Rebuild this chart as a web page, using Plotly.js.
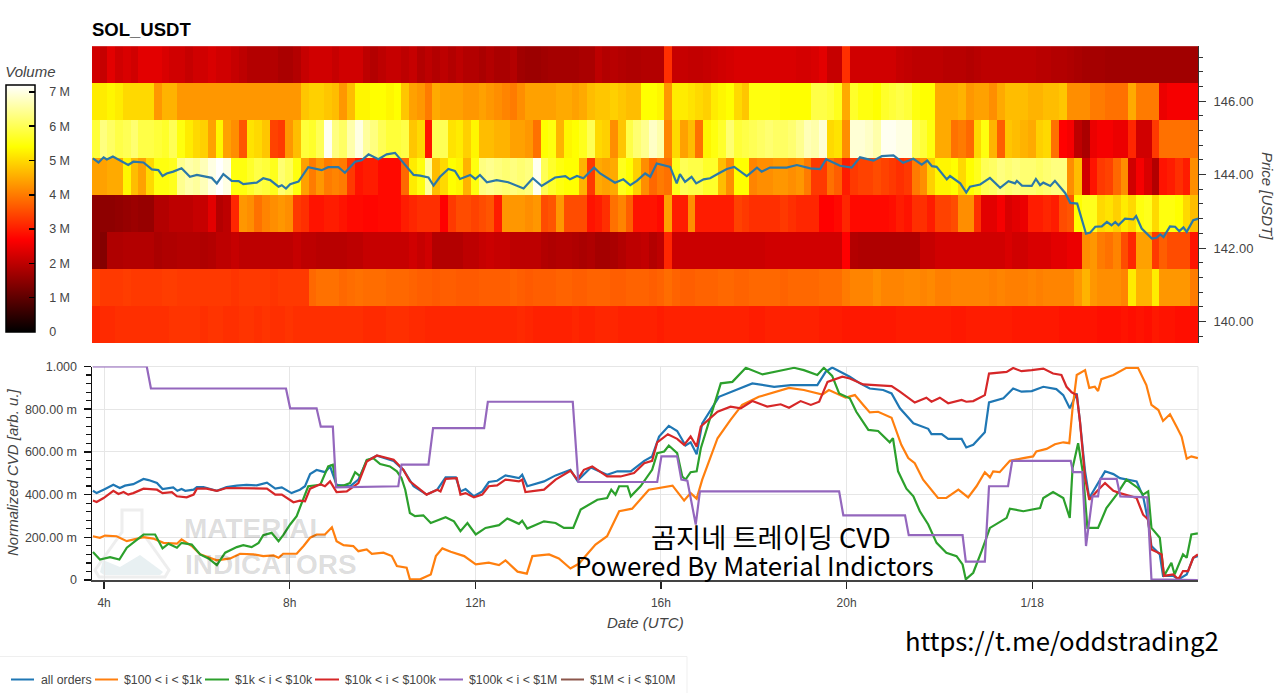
<!DOCTYPE html>
<html><head><meta charset="utf-8">
<script src="https://cdn.plot.ly/plotly-3.0.1.min.js"></script>
<style>html,body{margin:0;padding:0;background:#fff}#c{width:1280px;height:693px}</style>
</head><body><div id="c"></div>
<script>
// Volume heatmap, millions, 10-minute columns, one row per price band (top band first)
const rowA=[2.2,2.1,2.4,2.2,2.3,2.2,2.4,2.4,2.4,2.3,
2.2,2.2,2.1,2.2,2.2,2.3,2.2,2.2,2.1,2.0,
1.9,1.9,1.9,1.9,1.8,1.8,1.9,2.1,2.2,2.2,
2.2,2.1,2.2,2.2,2.2,2.0,1.9,2.0,2.1,2.1,
2.0,2.1,1.9,2.0,1.9,2.0,1.9,2.0,1.9,1.9,
1.8,1.9,1.8,1.8,1.9,1.7,1.65,1.65,1.7,1.75,
1.75,1.75,1.75,1.8,1.8,2.0,1.9,1.95,1.9,1.85,
1.85,1.9,1.9,1.9,3.2,2.1,2.1,2.05,2.05,2.1,
2.15,2.2,2.25,2.3,2.3,2.3,2.3,2.3,2.3,2.3,
2.3,2.25,2.25,2.3,2.4,2.1,2.1,3.2,2.2,2.2,
2.2,2.2,2.2,2.2,2.1,2.05,2.0,2.0,2.0,2.0,
1.95,1.95,1.95,1.9,1.95,2.0,2.0,2.0,2.0,2.0,
2.0,2.0,1.95,1.95,1.9,1.9,1.85,1.8,1.75,1.75,
1.75,1.7,1.7,1.7,1.7,1.7,1.7,1.7,1.7,1.7,1.7,1.7,1.7];
const rowB=[5.2,5.2,5.3,5.2,5.0,5.0,5.0,5.0,4.3,4.6,
4.6,4.3,4.3,4.3,4.3,4.3,4.3,4.3,4.3,4.3,
4.3,4.3,4.3,4.3,4.3,4.3,4.3,4.8,4.9,4.9,
4.8,4.7,4.3,4.7,5.3,5.3,5.4,5.4,5.3,5.4,
4.8,4.4,4.3,4.0,4.5,4.4,4.4,4.4,4.3,4.3,
4.4,4.3,4.2,4.1,4.0,4.2,4.4,4.4,4.4,4.4,
4.5,4.5,4.4,4.5,4.7,4.8,4.8,4.9,4.8,4.7,
4.7,5.4,5.4,5.3,4.3,5.2,5.2,5.1,5.0,4.9,
5.2,5.3,5.4,5.0,4.8,5.5,5.5,5.5,5.5,5.4,
5.4,5.4,5.4,5.9,5.9,5.8,5.6,4.5,5.7,5.5,
5.5,5.4,5.7,5.8,5.9,5.8,5.5,5.4,5.4,4.5,
4.5,4.5,4.6,4.3,4.4,4.4,4.2,4.5,4.7,4.7,
4.7,4.6,4.6,4.7,4.7,4.8,4.2,4.2,4.2,4.0,
4.0,3.9,3.9,3.9,4.5,4.0,4.0,4.0,2.5,2.6,2.6,2.6,2.6];
const rowC=[5.8,6.3,6.1,5.9,6.0,6.2,5.9,5.9,5.8,5.7,
6.0,5.5,5.2,5.0,4.9,4.4,5.3,4.4,4.2,3.6,
5.1,5.0,4.8,3.4,3.3,4.3,4.7,5.8,5.7,6.0,
7.1,6.3,6.1,6.6,7.0,6.5,6.3,6.0,5.8,5.8,
5.9,4.8,5.0,2.9,6.0,6.0,5.1,5.2,4.9,5.3,
4.7,4.7,4.6,4.6,4.4,4.4,4.3,3.9,5.4,5.5,
4.6,5.3,5.4,5.6,6.0,5.0,4.9,4.2,4.8,5.9,
6.2,6.4,6.8,6.6,4.1,5.0,4.4,4.7,3.9,5.3,
5.5,5.7,6.2,5.8,5.9,6.0,6.1,6.2,6.1,6.1,
6.2,6.4,6.7,6.6,6.9,5.0,5.1,4.2,6.9,6.9,
6.8,6.6,7.1,7.1,7.0,7.0,6.0,5.8,5.5,4.5,
4.5,3.9,4.0,3.8,5.0,5.5,4.6,3.7,4.8,4.7,
4.6,4.5,4.9,5.0,3.9,2.7,2.6,2.0,1.8,2.5,
2.6,2.6,2.5,2.5,3.1,2.2,2.2,3.3,3.9,3.9,3.9,3.9,3.9];
const rowD=[4.4,4.4,4.5,4.5,5.3,4.7,4.4,5.0,5.5,5.5,
5.6,6.4,6.6,6.5,6.7,7.0,7.2,7.0,5.5,5.5,
5.7,5.9,5.8,5.6,6.2,6.0,5.5,4.4,4.0,4.3,
4.0,4.1,4.0,3.3,2.9,3.0,3.0,2.8,2.8,2.8,
3.8,5.2,5.5,6.5,4.7,5.0,5.4,5.3,4.6,5.5,
6.3,6.4,6.3,6.2,6.3,6.2,6.3,7.1,6.0,5.7,
5.5,5.4,5.4,4.6,3.3,4.5,4.4,4.5,5.6,5.4,
4.9,4.2,3.8,4.0,3.9,5.6,6.0,5.9,5.9,5.7,
5.7,4.7,4.2,5.4,5.4,4.1,4.2,4.2,4.3,4.3,
4.2,4.3,4.0,3.3,3.3,3.9,3.7,3.0,3.3,3.4,
3.4,3.5,3.4,3.3,3.2,3.3,4.0,4.2,4.9,5.3,
5.3,5.4,5.0,5.4,5.6,6.0,6.1,6.3,6.2,6.3,
6.2,6.2,6.1,6.2,6.3,6.3,4.2,4.7,2.2,2.9,
3.3,3.4,3.8,4.2,2.2,2.6,2.3,1.9,2.9,3.0,3.2,3.0,4.2];
const rowE=[1.5,1.5,1.5,1.55,1.6,1.65,1.6,1.6,1.9,1.9,
2.0,2.0,2.0,2.1,2.1,2.4,1.9,2.0,3.1,4.3,
4.2,3.9,4.1,4.2,4.3,4.2,3.3,3.2,2.9,2.9,
3.0,3.0,2.9,2.8,2.8,2.75,2.75,2.8,2.8,2.8,
3.0,3.1,3.2,3.2,3.2,2.7,3.3,3.5,3.5,3.4,
3.5,3.6,3.0,4.3,4.3,4.3,4.2,4.3,3.5,3.6,
4.3,3.5,3.5,3.5,2.9,3.0,3.2,3.9,4.1,3.7,
2.9,2.9,2.9,2.8,4.4,3.0,3.0,4.2,3.0,3.0,
3.0,3.0,3.0,3.4,3.3,3.2,3.2,3.2,3.2,3.3,
3.2,3.1,3.1,3.1,2.7,2.7,2.8,3.1,2.8,2.8,
2.8,2.8,2.8,2.85,3.0,2.9,3.2,3.2,3.0,3.4,
3.4,3.5,4.2,4.2,3.2,2.4,2.4,2.6,2.3,2.4,
2.5,3.0,3.0,3.1,3.0,3.5,3.6,5.4,5.6,5.6,
5.0,5.1,4.9,5.2,5.0,5.5,5.6,5.0,5.5,5.5,5.4,5.0,4.7];
const rowF=[1.5,1.4,1.85,1.85,1.9,1.9,1.9,1.9,1.8,1.85,
1.85,1.9,1.9,1.9,1.85,1.9,2.0,2.0,2.1,2.0,
2.0,2.0,2.0,2.0,2.0,2.0,2.1,2.0,2.0,1.95,
1.95,1.95,1.95,2.0,2.0,2.1,2.1,2.1,2.1,2.1,
2.1,2.2,2.1,2.2,1.9,1.9,1.9,1.9,2.0,2.0,
2.1,2.15,2.1,2.1,2.0,2.0,2.0,2.0,1.9,1.85,
1.9,1.9,1.85,1.8,1.85,1.75,1.75,1.8,1.9,2.0,
2.0,2.05,1.9,2.0,3.1,2.15,2.15,2.15,2.15,2.15,
2.15,2.15,2.15,2.15,2.15,2.15,2.15,2.2,2.2,2.2,
2.2,2.2,2.2,2.2,2.2,2.2,2.2,2.7,1.9,1.85,
1.85,1.85,1.85,1.85,1.85,1.85,1.85,2.1,2.1,2.2,
2.2,2.2,2.2,2.2,2.2,2.2,2.2,2.2,2.3,2.2,
2.2,2.3,2.3,2.3,2.4,2.4,2.5,2.5,4.2,4.3,
4.0,3.9,4.1,3.5,3.1,4.4,4.4,3.3,3.7,3.5,3.5,3.5,2.9];
const rowG=[3.4,3.3,3.3,3.3,3.35,3.3,3.3,3.3,3.3,3.35,
3.35,3.3,3.3,3.3,3.3,3.3,3.3,3.3,3.25,3.3,
3.3,3.3,3.3,3.25,3.3,3.3,3.3,3.3,3.8,3.9,
3.9,3.9,3.8,3.85,3.9,3.85,3.85,3.85,3.8,3.8,
3.8,3.75,3.7,3.7,3.65,3.7,3.7,3.65,3.65,3.65,
3.7,3.7,3.7,3.7,3.75,3.7,3.65,3.7,3.7,3.7,
3.75,3.75,3.7,3.7,3.75,3.75,3.75,3.7,3.7,3.75,
3.75,3.75,3.7,3.75,3.85,3.75,3.7,3.7,3.75,3.75,
3.75,3.8,3.8,3.75,3.75,3.8,3.8,3.8,3.8,3.75,
3.8,3.8,3.8,3.8,3.85,3.85,3.85,4.0,4.1,4.1,
4.1,4.2,4.1,4.1,4.1,4.15,4.15,4.1,4.15,4.05,
4.05,4.1,4.1,4.1,4.1,4.1,4.05,4.1,4.05,4.05,
4.05,4.1,4.05,4.1,4.1,4.1,4.1,4.3,4.6,4.3,
4.2,4.2,4.2,4.1,5.2,4.6,4.6,5.2,4.3,4.3,4.3,4.3,4.0];
const rowH=[3.1,3.15,3.15,3.2,3.2,3.2,3.2,3.2,3.2,3.2,
3.25,3.25,3.25,3.25,3.2,3.25,3.25,3.2,3.2,3.25,
3.25,3.2,3.25,3.2,3.2,3.25,3.2,3.2,3.2,3.2,
3.2,3.2,3.2,3.2,3.2,3.15,3.15,3.15,3.2,3.2,
3.2,3.15,3.15,3.1,3.1,3.1,3.1,3.1,3.1,3.1,
3.1,3.1,3.1,3.1,3.1,3.15,3.1,3.05,3.05,3.05,
3.05,3.05,3.1,3.05,3.05,3.1,3.1,3.1,3.05,3.05,
3.05,3.05,3.05,3.0,3.05,3.05,3.05,3.05,3.05,3.05,
3.05,3.05,3.05,3.05,3.05,3.0,3.0,3.05,3.05,3.05,
3.05,3.05,3.05,3.05,3.0,3.0,3.0,2.95,2.95,2.95,
2.95,2.95,2.95,2.95,3.0,3.0,3.0,3.0,3.0,3.0,
3.0,2.95,2.95,3.0,3.0,3.0,3.0,3.0,3.0,2.95,
2.95,2.95,2.95,2.95,2.95,2.9,2.9,2.9,2.9,2.9,
2.85,2.85,2.85,2.9,2.85,2.9,2.85,2.95,2.9,2.9,2.85,2.85,2.85];
const bandPrices=[139.92,140.93,141.94,142.95,143.96,144.97,145.98,146.99];

// Price
const priceH=[3.76,3.88,3.99,4.06,4.19,4.42,4.52,4.63,4.85,5.03,5.17,5.26,5.35,5.49,5.57,5.67,5.85,6.0,6.32,6.43,6.57,6.75,6.9,7.0,7.29,7.43,7.58,7.76,7.83,7.92,8.01,8.19,8.4,8.55,8.69,8.83,9.05,9.19,9.41,9.55,9.7,9.91,10.09,10.27,10.41,10.67,10.81,10.99,11.1,11.24,11.42,11.56,11.67,11.89,12.0,12.1,12.25,12.46,12.71,13.04,13.24,13.43,13.72,13.94,14.04,14.19,14.33,14.56,14.69,15.01,15.19,15.34,15.48,15.66,15.77,15.91,16.2,16.34,16.41,16.52,16.66,16.76,16.92,17.06,17.24,17.42,17.58,17.85,18.07,18.17,18.35,18.71,18.93,19.22,19.43,19.56,19.86,20.11,20.29,20.58,20.76,21.01,21.22,21.44,21.62,21.74,21.84,21.94,22.16,22.23,22.45,22.58,22.66,22.88,23.09,23.31,23.49,23.63,23.67,23.78,23.99,24.08,24.17,24.24,24.39,24.49,24.71,24.82,24.97,25.16,25.25,25.36,25.5,25.61,25.71,25.79,25.86,26.0,26.18,26.24,26.36,26.58,26.68,26.76,26.83,26.97,27.08,27.17,27.26,27.33,27.47,27.58];
const priceV=[144.44,144.33,144.47,144.41,144.49,144.32,144.26,144.35,144.33,144.14,144.12,143.96,144.03,144.08,144.12,144.17,143.94,143.99,143.91,143.76,144.01,143.83,143.82,143.74,143.78,143.9,143.85,143.67,143.71,143.62,143.74,143.81,144.2,144.15,144.12,144.2,144.2,144.05,144.35,144.39,144.55,144.42,144.55,144.59,144.39,143.99,143.97,143.92,143.7,143.94,144.15,144.1,143.88,143.99,143.88,143.99,143.79,143.85,143.79,143.62,143.9,143.69,143.92,143.96,143.87,143.96,143.9,144.19,144.03,143.78,143.87,143.71,143.83,144.03,143.94,144.3,144.21,143.76,144.01,143.8,143.94,143.76,143.87,143.9,144.03,144.15,144.21,143.96,144.19,144.08,144.19,144.19,144.26,144.17,144.15,144.42,144.24,144.19,144.47,144.38,144.5,144.52,144.32,144.43,144.27,144.38,144.23,144.21,143.87,143.96,143.76,143.51,143.67,143.73,143.91,143.64,143.82,143.76,143.83,143.7,143.69,143.88,143.71,143.78,143.69,143.83,143.5,143.23,143.21,142.39,142.42,142.58,142.59,142.71,142.62,142.71,142.62,142.8,142.78,142.87,142.53,142.26,142.28,142.37,142.3,142.59,142.58,142.46,142.56,142.44,142.76,142.8];

// Normalized CVD series
const allH=[3.76,3.84,3.99,4.2,4.34,4.45,4.63,4.85,4.96,5.14,5.26,5.49,5.58,5.67,5.75,5.93,6.0,6.14,6.43,6.64,6.86,7.07,7.29,7.51,7.69,7.83,8.04,8.22,8.33,8.44,8.58,8.76,8.87,9.01,9.3,9.48,9.66,9.88,10.24,10.45,10.67,10.95,11.18,11.36,11.58,11.68,11.79,11.97,12.15,12.29,12.47,12.65,12.94,13.01,13.12,13.48,13.73,14.05,14.2,14.49,14.84,15.06,15.35,15.64,15.81,15.96,16.17,16.35,16.53,16.64,16.77,16.89,17.25,17.5,17.97,18.44,18.8,19.37,19.55,19.69,19.87,20.07,20.29,20.5,20.79,20.97,21.15,21.44,21.76,21.83,22.05,22.19,22.48,22.58,22.73,22.98,23.07,23.38,23.59,23.77,23.99,24.24,24.52,24.67,24.81,24.96,25.03,25.14,25.23,25.39,25.57,25.75,25.89,26.25,26.39,26.5,26.57,26.75,26.82,27.04,27.15,27.33,27.47,27.57];
const allV=[.418,.407,.423,.446,.431,.442,.449,.473,.468,.454,.426,.434,.418,.426,.418,.423,.435,.435,.418,.435,.442,.446,.443,.456,.428,.434,.407,.423,.439,.496,.515,.505,.532,.446,.439,.47,.558,.582,.558,.516,.439,.4,.423,.481,.481,.415,.426,.392,.415,.459,.465,.49,.477,.493,.439,.462,.49,.516,.465,.527,.493,.509,.509,.558,.579,.672,.722,.698,.63,.645,.589,.734,.858,.879,.921,.905,.913,.913,.975,.995,.975,.952,.921,.897,.89,.874,.804,.734,.708,.683,.683,.661,.661,.621,.633,.692,.832,.851,.897,.882,.885,.905,.894,.866,.804,.874,.742,.509,.384,.446,.509,.496,.477,.462,.392,.275,.159,.12,.019,.019,.003,.026,.104,.112];
const o100H=[3.76,3.91,4.02,4.27,4.49,4.85,5.06,5.28,5.57,5.67,5.89,6.07,6.43,6.72,6.93,7.22,7.43,7.65,7.76,7.86,8.15,8.3,8.44,8.58,8.76,8.91,9.01,9.16,9.37,9.48,9.66,9.77,10.02,10.2,10.31,10.52,10.59,10.81,11.04,11.15,11.29,11.47,11.76,12.01,12.29,12.51,12.65,12.91,13.11,13.23,13.59,13.8,14.05,14.23,14.59,14.84,15.1,15.38,15.74,15.99,16.25,16.5,16.64,16.77,16.89,17.22,17.5,17.75,18.11,18.76,19.08,19.48,19.62,19.98,20.18,20.36,20.5,20.68,20.97,21.18,21.33,21.47,21.65,21.97,22.15,22.41,22.62,22.8,22.98,23.09,23.16,23.3,23.52,23.81,24.02,24.09,24.31,24.49,24.67,24.8,24.87,24.96,25.14,25.23,25.35,25.42,25.49,25.75,26.03,26.28,26.46,26.57,26.72,26.82,26.97,27.11,27.22,27.33,27.43,27.57];
const o100V=[.205,.198,.208,.205,.182,.201,.194,.174,.17,.19,.159,.12,.092,.101,.123,.12,.112,.115,.104,.123,.123,.159,.198,.213,.213,.247,.182,.163,.159,.135,.143,.123,.128,.112,.065,.058,.003,.003,.026,.112,.148,.132,.112,.073,.081,.07,.092,.039,.03,.112,.12,.101,.054,.076,.166,.205,.322,.334,.423,.434,.442,.372,.407,.381,.47,.664,.75,.82,.858,.9,.89,.869,.89,.854,.866,.82,.785,.788,.76,.633,.571,.547,.47,.384,.384,.423,.387,.439,.505,.481,.509,.505,.558,.571,.579,.602,.614,.636,.645,.641,.804,.96,.983,.9,.905,.885,.941,.96,.994,.994,.913,.82,.796,.745,.776,.719,.672,.568,.579,.571];
const o1kH=[3.76,3.91,4.13,4.33,4.49,4.85,5.1,5.26,5.39,5.57,5.67,5.89,6.07,6.25,6.43,6.61,6.86,7.0,7.18,7.33,7.43,7.61,7.76,7.86,8.01,8.15,8.26,8.4,8.66,8.83,8.93,9.01,9.16,9.3,9.41,9.52,9.66,9.8,9.95,10.16,10.31,10.41,10.49,10.59,10.7,10.88,11.04,11.36,11.54,11.68,11.83,12.01,12.22,12.51,12.69,12.94,13.01,13.12,13.48,13.73,13.91,14.11,14.27,14.63,14.84,14.93,15.02,15.1,15.28,15.35,15.56,15.81,15.92,16.07,16.17,16.35,16.46,16.53,16.64,16.77,16.86,17.14,17.29,17.54,17.83,18.19,18.44,18.87,19.08,19.37,19.51,19.69,19.84,20.07,20.21,20.47,20.68,20.93,21.0,21.11,21.29,21.44,21.58,21.76,21.94,22.15,22.37,22.5,22.57,22.73,22.91,23.09,23.45,23.52,23.81,24.17,24.24,24.45,24.67,24.81,24.87,24.99,25.1,25.19,25.42,25.6,25.82,26.03,26.28,26.39,26.5,26.57,26.75,26.84,27.0,27.07,27.25,27.33,27.43,27.57];
const o1kV=[.131,.096,.107,.096,.151,.213,.213,.148,.17,.151,.174,.166,.12,.101,.07,.128,.154,.163,.154,.174,.21,.221,.182,.21,.26,.299,.361,.439,.446,.532,.54,.439,.443,.454,.505,.485,.563,.571,.543,.532,.509,.477,.423,.314,.299,.303,.267,.294,.275,.229,.267,.213,.244,.257,.288,.263,.278,.241,.275,.267,.244,.244,.33,.376,.384,.423,.4,.439,.439,.392,.439,.516,.594,.602,.63,.594,.485,.47,.505,.509,.617,.82,.921,.928,.994,.963,.975,.994,.983,.96,.994,.956,.874,.851,.788,.703,.698,.645,.664,.509,.428,.392,.322,.26,.174,.128,.112,.073,.003,.034,.135,.244,.291,.334,.322,.337,.384,.412,.384,.291,.524,.641,.493,.244,.244,.337,.4,.47,.431,.4,.415,.244,.198,.019,.081,.026,.12,.104,.213,.218];
const o10kH=[3.76,3.84,3.99,4.2,4.31,4.42,4.52,4.63,4.85,5.14,5.26,5.46,5.57,5.78,5.93,6.0,6.21,6.43,6.64,7.0,7.22,7.51,7.69,7.83,8.08,8.22,8.33,8.44,8.66,8.76,8.87,9.01,9.23,9.48,9.66,9.88,10.24,10.45,10.59,10.95,11.18,11.25,11.36,11.6,11.68,11.79,11.97,12.15,12.29,12.47,12.65,12.94,13.01,13.08,13.48,13.73,14.05,14.2,14.34,14.52,14.84,15.13,15.42,15.64,15.81,15.92,16.15,16.35,16.5,16.64,16.77,16.86,17.22,17.5,17.72,17.97,18.29,18.58,18.76,19.01,19.23,19.41,19.59,19.91,20.07,20.36,20.79,20.97,21.15,21.47,21.72,21.83,22.01,22.19,22.48,22.58,22.73,22.98,23.07,23.45,23.59,23.77,23.99,24.24,24.45,24.63,24.74,24.85,24.96,25.03,25.14,25.23,25.39,25.57,25.75,25.89,26.25,26.39,26.5,26.57,26.79,26.84,27.04,27.15,27.25,27.36,27.47,27.57];
const o10kV=[.372,.365,.384,.418,.403,.412,.4,.407,.428,.423,.407,.412,.392,.387,.4,.428,.428,.418,.431,.431,.428,.428,.4,.4,.364,.372,.369,.428,.449,.439,.462,.412,.415,.454,.555,.583,.563,.516,.462,.4,.423,.415,.474,.477,.4,.407,.387,.4,.439,.443,.47,.462,.47,.412,.423,.47,.512,.47,.516,.532,.485,.485,.501,.547,.558,.645,.683,.661,.633,.672,.625,.719,.788,.812,.804,.838,.812,.823,.807,.838,.82,.835,.928,.952,.944,.916,.91,.908,.882,.831,.854,.835,.854,.828,.843,.835,.838,.866,.967,.975,.993,.978,.983,.99,.967,.96,.905,.879,.866,.742,.477,.376,.415,.454,.418,.407,.384,.306,.283,.143,.12,.019,.026,.003,.042,.042,.104,.12];
const o100kH=[3.76,4.92,5.01,7.92,8.01,8.58,8.67,8.93,9.0,10.34,10.41,10.99,11.09,12.19,12.27,14.1,14.22,15.92,16.01,16.35,16.44,16.57,16.75,16.84,19.84,19.93,21.26,21.34,22.5,22.57,22.98,23.07,23.48,23.57,24.83,24.88,25.08,25.16,25.3,25.42,25.47,25.82,25.9,26.48,26.57,27.57];
const o100kV=[1,1,.897,.897,.804,.804,.718,.718,.434,.439,.54,.54,.711,.711,.835,.835,.459,.459,.579,.579,.47,.465,.26,.415,.415,.303,.303,.21,.21,.086,.086,.439,.439,.558,.558,.505,.505,.159,.392,.392,.474,.474,.392,.387,.003,0];

// Labels
const seriesNames=['all orders','$100 < i < $1k','$1k < i < $10k','$10k < i < $100k','$100k < i < $1M','$1M < i < $10M'];
const seriesColors=['#1f77b4','#ff7f0e','#2ca02c','#d62728','#9467bd','#8c564b'];
const xTickHours=[4,8,12,16,20,24];
const xTickText=['4h','8h','12h','16h','20h','1/18'];
const cvdTicks=[0,.2,.4,.6,.8,1];
const cvdTickText=['0','200.00 m','400.00 m','600.00 m','800.00 m','1.000'];
const volTicks=[0,1,2,3,4,5,6,7];
const volTickText=['0','1 M','2 M','3 M','4 M','5 M','6 M','7 M'];
const priceTicks=[140,142,144,146];
const priceTickText=['140.00','142.00','144.00','146.00'];
// Legend key positions on the page (left, right of key; left of label)
const keyLeft=[11,95,205,315,439,561];
const keyRight=[34,118,229,339,463,584];
const keyText=[38.5,121.5,232.5,342.5,466.5,587.5];

const DAY0=Date.UTC(2024,0,17);
const T=h=>new Date(DAY0+h*3600e3).toISOString();
const W=1106,H=534,L=92,B=580;
const px=v=>(v-L)/W, py=v=>(B-v)/H;
const xRange=[T(3.74),T(3.74+143/6)];
const SANS='"Liberation Sans", Arial, sans-serif';
const GREY='#444';

const line=(i,xs,ys)=>({type:'scatter',mode:'lines',name:seriesNames[i],xaxis:'x2',yaxis:'y2',showlegend:false,
  x:xs.map(T),y:ys,line:{color:seriesColors[i],width:2.2},hoverinfo:'skip'});

const traces=[
 {type:'heatmap',xaxis:'x',yaxis:'y',showlegend:false,hoverinfo:'skip',
  z:[rowH,rowG,rowF,rowE,rowD,rowC,rowB,rowA],y:bandPrices,x0:T(3.74+1/12),dx:600000,xtype:'scaled',
  zmin:0,zmax:7.2,colorscale:[[0,'#000000'],[0.375,'#ff0000'],[0.75,'#ffff00'],[1,'#ffffff']],
  colorbar:{x:px(6),xanchor:'left',xpad:0,ypad:0,y:py(197.5),yanchor:'middle',
    lenmode:'pixels',len:269,thicknessmode:'pixels',thickness:29,
    outlinecolor:'#000',outlinewidth:1.5,bgcolor:'rgba(0,0,0,0)',
    tickmode:'array',tickvals:volTicks,ticktext:volTickText.map(t=>'\u00a0\u00a0\u00a0'+t),
    ticks:'inside',ticklen:6,tickwidth:1.5,tickcolor:'#000',
    tickfont:{family:SANS,size:12.5,color:GREY},
    title:{text:'Volume',side:'top',font:{family:SANS,size:15,color:GREY,style:'italic'}}}},
 {type:'scatter',mode:'lines',xaxis:'x',yaxis:'y',x:priceH.map(T),y:priceV,showlegend:false,hoverinfo:'skip',
  line:{color:'#2b78a8',width:2.2}},
 line(0,allH,allV),line(1,o100H,o100V),line(2,o1kH,o1kV),line(3,o10kH,o10kV),line(4,o100kH,o100kV)
];

const note=(text,xp,yp,size,color,extra)=>Object.assign({text,xref:'paper',yref:'paper',x:px(xp),y:py(yp),
  xanchor:'center',yanchor:'middle',showarrow:false,
  font:{family:'"Noto Sans CJK KR","Noto Sans",sans-serif',size,color}},extra||{});
const WM={family:'"Liberation Sans",sans-serif',size:28,weight:700,color:'rgba(0,0,0,0.14)'};
const path=pts=>'M'+pts.map(p=>px(p[0])+','+py(p[1])).join('L')+'Z';
const LEG_Y=679.5;

const layout={
 width:1280,height:693,margin:{l:L,r:82,t:46,b:113,pad:0,autoexpand:false},
 paper_bgcolor:'#fff',plot_bgcolor:'rgba(0,0,0,0)',showlegend:false,
 title:{text:'SOL_USDT',x:92/1280,xanchor:'left',y:1-30/693,yanchor:'middle',xref:'container',yref:'container',
   font:{family:SANS,size:18.5,weight:700,color:'#000'}},
 xaxis:{domain:[0,1],type:'date',range:xRange,anchor:'y',showticklabels:false,ticks:'',showgrid:false,zeroline:false,showline:false},
 yaxis:{domain:[py(343),1],range:[139.415,147.5],side:'right',anchor:'x',
   tickmode:'array',tickvals:priceTicks,ticktext:priceTickText,ticks:'outside',ticklen:7,tickwidth:1,tickcolor:'#333',ticklabelstandoff:5,
   minor:{dtick:0.4,tick0:140,ticks:'outside',ticklen:4,tickwidth:1,tickcolor:'#333',showgrid:false},
   showline:true,linecolor:'#333',linewidth:1,showgrid:false,zeroline:false,
   tickfont:{family:SANS,size:13,color:GREY}},
 xaxis2:{domain:[0,1],type:'date',range:xRange,anchor:'y2',
   tickmode:'array',tickvals:xTickHours.map(T),ticktext:xTickText,ticks:'outside',ticklen:7,tickwidth:1.2,tickcolor:'#222',ticklabelstandoff:4,
   showline:true,linecolor:'#444',linewidth:1.5,showgrid:true,gridcolor:'#e6e6e6',gridwidth:1,zeroline:false,
   tickfont:{family:SANS,size:12,color:GREY}},
 yaxis2:{domain:[0,py(366.5)],range:[0,1],anchor:'x2',
   tickmode:'array',tickvals:cvdTicks,ticktext:cvdTickText,ticks:'outside',ticklen:7,tickwidth:1.5,tickcolor:'#111',ticklabelstandoff:4,
   minor:{dtick:0.04,tick0:0,ticks:'outside',ticklen:5,tickwidth:1.2,tickcolor:'#111',showgrid:false},
   showline:true,linecolor:'#111',linewidth:1.5,showgrid:true,gridcolor:'#e6e6e6',gridwidth:1,zeroline:false,
   tickfont:{family:SANS,size:12.5,color:GREY}},
 shapes:[
  {type:'line',xref:'paper',yref:'paper',x0:0,x1:1,y0:py(366.5),y1:py(366.5),line:{color:'#e6e6e6',width:1},layer:'below'},
  {type:'line',xref:'paper',yref:'paper',x0:1,x1:1,y0:0,y1:py(366.5),line:{color:'#e6e6e6',width:1},layer:'below'},
  {type:'path',xref:'paper',yref:'paper',layer:'below',
   path:path([[122,510],[142,510],[142,532],[169,570],[165,577],[99,577],[95,570],[122,532]]),
   line:{color:'#eeeeee',width:3},fillcolor:'rgba(0,0,0,0)'},
  {type:'path',xref:'paper',yref:'paper',layer:'below',
   path:path([[103,560],[120,567],[140,555],[163,572],[160,575],[104,575],[100,572]]),
   line:{width:0},fillcolor:'#e8f0f2'},
  {type:'line',xref:'paper',yref:'paper',x0:px(0),x1:px(687),y0:py(656.5),y1:py(656.5),line:{color:'#efefef',width:1}},
  {type:'line',xref:'paper',yref:'paper',x0:px(687),x1:px(687),y0:py(656.5),y1:py(693),line:{color:'#efefef',width:1}},
  ...keyLeft.map((k,i)=>({type:'line',xref:'paper',yref:'paper',x0:px(k),x1:px(keyRight[i]),y0:py(LEG_Y),y1:py(LEG_Y),
     line:{color:seriesColors[i],width:2}}))
 ],
 annotations:[
  note('MATERIAL',255.5,528.5,28,WM.color,{font:WM}),
  note('INDICATORS',270.5,564,28,WM.color,{font:WM}),
  note('Price [USDT]',1268,196,15,GREY,{textangle:90,font:{family:SANS,size:15,color:GREY,style:'italic'}}),
  note('Normalized CVD [arb. u.]',12,472,15,GREY,{textangle:-90,font:{family:SANS,size:15,color:GREY,style:'italic'}}),
  note('Date (UTC)',645.5,622,15,GREY,{font:{family:SANS,size:15,color:GREY,style:'italic'}}),
  note('곰지네 트레이딩 CVD',771,536,27.3,'#000'),
  note('Powered By Material Indictors',754,564.5,25.9,'#000'),
  note('https://t.me/oddstrading2',1061.5,639.5,25.7,'#000'),
  ...seriesNames.map((n,i)=>note(n,keyText[i],LEG_Y,12.3,GREY,{xanchor:'left',font:{family:SANS,size:12.3,color:GREY}}))
 ]
};
Plotly.newPlot('c',traces,layout,{displayModeBar:false,staticPlot:true});
</script></body></html>
